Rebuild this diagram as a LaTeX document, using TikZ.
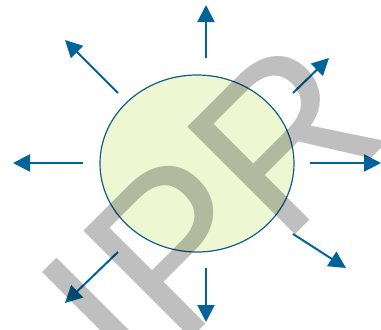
\documentclass[tikz,border=0pt]{standalone}
\usepackage{fontspec}
\newfontfamily\wmfont{Liberation Sans}
\usetikzlibrary{arrows.meta,shapes.geometric}
\definecolor{arrowblue}{RGB}{0,99,153}
\definecolor{edgeblue}{RGB}{18,92,140}
\definecolor{blobfill}{RGB}{237,248,211}
\begin{document}
\begin{tikzpicture}[x=1pt,y=-1pt,
  ray/.style={draw=arrowblue, line width=2pt, -{Triangle[length=17pt,width=17pt]}},
  blob/.style={ellipse, draw=edgeblue, fill=blobfill, line width=1.2pt, minimum width=194pt, minimum height=177pt, inner sep=0pt},
  watermark/.style={rotate=45, anchor=base west, inner sep=0pt, text=black, text opacity=0.25, font=\wmfont\fontsize{221}{221}\selectfont}]
\useasboundingbox (0,0) rectangle (381,330);
\node[blob] (c) at (197,163.5) {};
% ray start and end points
\coordinate (ns) at (206,58);   \coordinate (ne) at (206,5);
\coordinate (ss) at (206,268);  \coordinate (se) at (206,322);
\coordinate (ws) at (83,163);   \coordinate (we) at (13,163);
\coordinate (es) at (310,163);  \coordinate (ee) at (381,163);
\coordinate (nws) at (118,93);  \coordinate (nwe) at (65,40);
\coordinate (nes) at (293,93);  \coordinate (nee) at (329,58);
\coordinate (ses) at (293,234); \coordinate (see) at (346,268);
\coordinate (sws) at (118,252); \coordinate (swe) at (65,303);
\draw[ray] (ns) -- (ne);
\draw[ray] (ss) -- (se);
\draw[ray] (ws) -- (we);
\draw[ray] (es) -- (ee);
\draw[ray] (nws) -- (nwe);
\draw[ray] (nes) -- (nee);
\draw[ray] (ses) -- (see);
\draw[ray] (sws) -- (swe);
\node[watermark] (wm) at (134.9,395.1) {IPR};
\end{tikzpicture}
\end{document}
